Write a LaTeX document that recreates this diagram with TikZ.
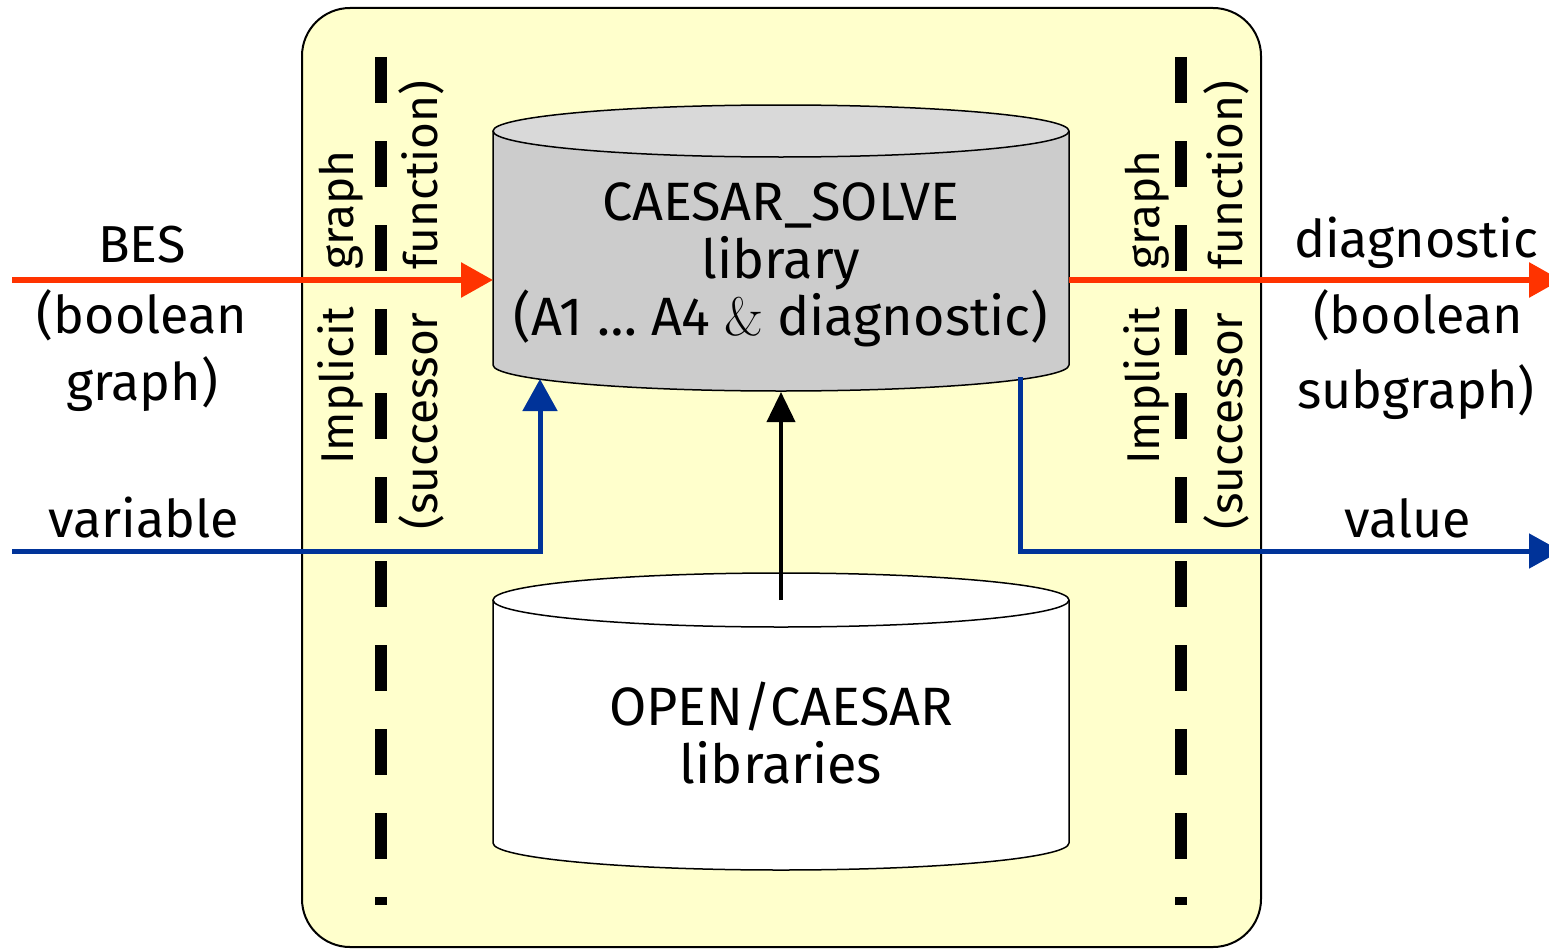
\documentclass[tikz,border=0pt]{standalone}
\usepackage{fontspec}
\newfontfamily\fira{Fira Sans}
\usetikzlibrary{arrows.meta}
\definecolor{boxyellow}{HTML}{FFFFCC}
\definecolor{redarr}{HTML}{FF3300}
\definecolor{bluearr}{HTML}{003399}
\definecolor{cylgray}{HTML}{CCCCCC}
\definecolor{cyltop}{HTML}{D9D9D9}
\begin{document}
\begin{tikzpicture}[x=1pt,y=-1pt,
  font=\fira\fontsize{46}{57}\selectfont,
  lbl/.style={inner sep=0pt, anchor=base, font=\fira\fontsize{52}{60}\selectfont},
  cyltext/.style={inner sep=0pt, align=center, font=\fira\fontsize{54}{57.5}\selectfont},
  vlbl/.style={inner sep=0pt, rotate=90, anchor=base west},
  redarrow/.style={draw=redarr, line width=6pt, -{Triangle[length=32pt,width=34pt]}},
  bluearrow/.style={draw=bluearr, line width=5pt, -{Triangle[length=32pt,width=34pt]}},
  blackarrow/.style={draw=black, line width=4pt, -{Triangle[length=30pt,width=28pt]}},
  sep/.style={draw=black, line width=12pt, dash pattern=on 46pt off 38pt},
  cyl/.style={draw=black, line width=1.5pt}
]
\useasboundingbox (0,0) rectangle (1549,950);
\clip (0,0) rectangle (1549,950);

% yellow frame
\draw[fill=boxyellow, line width=2pt, rounded corners=48pt] (302,8) rectangle (1261,947);

% dashed separators
\draw[sep] (381,57) -- (381,905);
\draw[sep] (1181,57) -- (1181,905);

% rotated labels
\node[vlbl] (impL) at (353,465) {Implicit};
\node[vlbl] (graphL) at (353,270) {graph};
\node[vlbl] (succL) at (437,530) {(successor};
\node[vlbl] (funcL) at (437,270) {function)};
\node[vlbl] (impR) at (1159,465) {Implicit};
\node[vlbl] (graphR) at (1159,270) {graph};
\node[vlbl] (succR) at (1242,530) {(successor};
\node[vlbl] (funcR) at (1242,270) {function)};

% top cylinder (CAESAR_SOLVE)
\fill[cylgray] (493,131) -- (493,365) arc[start angle=180, end angle=0, x radius=288, y radius=26] -- (1069,131) -- cycle;
\draw[cyl] (493,131) -- (493,365) arc[start angle=180, end angle=0, x radius=288, y radius=26] -- (1069,131);
\draw[cyl, fill=cyltop] (781,131) ellipse[x radius=288, y radius=26];
\node[cyltext] (solve) at (781,265) {CAESAR\_SOLVE\\library\\(A1 … A4 {\rmfamily\&} diagnostic)};

% bottom cylinder (OPEN/CAESAR)
\fill[white] (493,600) -- (493,843) arc[start angle=180, end angle=0, x radius=288, y radius=27] -- (1069,600) -- cycle;
\draw[cyl] (493,600) -- (493,843) arc[start angle=180, end angle=0, x radius=288, y radius=27] -- (1069,600);
\draw[cyl, fill=white] (781,600) ellipse[x radius=288, y radius=27];
\node[cyltext] (open) at (781,733) {OPEN/CAESAR\\libraries};

% connector end points
\coordinate (solveL) at (493,280);
\coordinate (solveR) at (1069,280);
\coordinate (solveBL) at (540,379);
\coordinate (solveBR) at (1020,377);
\coordinate (solveB) at (781,392);
\coordinate (openT) at (781,600);
\coordinate (inBES) at (12,280);
\coordinate (inVar) at (12,551);
\coordinate (outDiag) at (1561,280);
\coordinate (outVal) at (1561,551);

% arrows
\draw[redarrow] (inBES) -- (solveL);
\draw[redarrow] (solveR) -- (outDiag);
\draw[bluearrow] (inVar) -| (solveBL);
\draw[bluearrow] (solveBR) |- (outVal);
\draw[blackarrow] (openT) -- (solveB);

% side labels
\node[lbl] (bes) at (142,262) {BES};
\node[lbl] (bool1) at (142,333) {(boolean};
\node[lbl] (graph1) at (142,400) {graph)};
\node[lbl] (var) at (144,537) {variable};
\node[lbl] (diag) at (1416,257) {diagnostic};
\node[lbl] (bool2) at (1418,333) {(boolean};
\node[lbl] (sub) at (1416,408) {subgraph)};
\node[lbl] (val) at (1408,537) {value};
\end{tikzpicture}
\end{document}
